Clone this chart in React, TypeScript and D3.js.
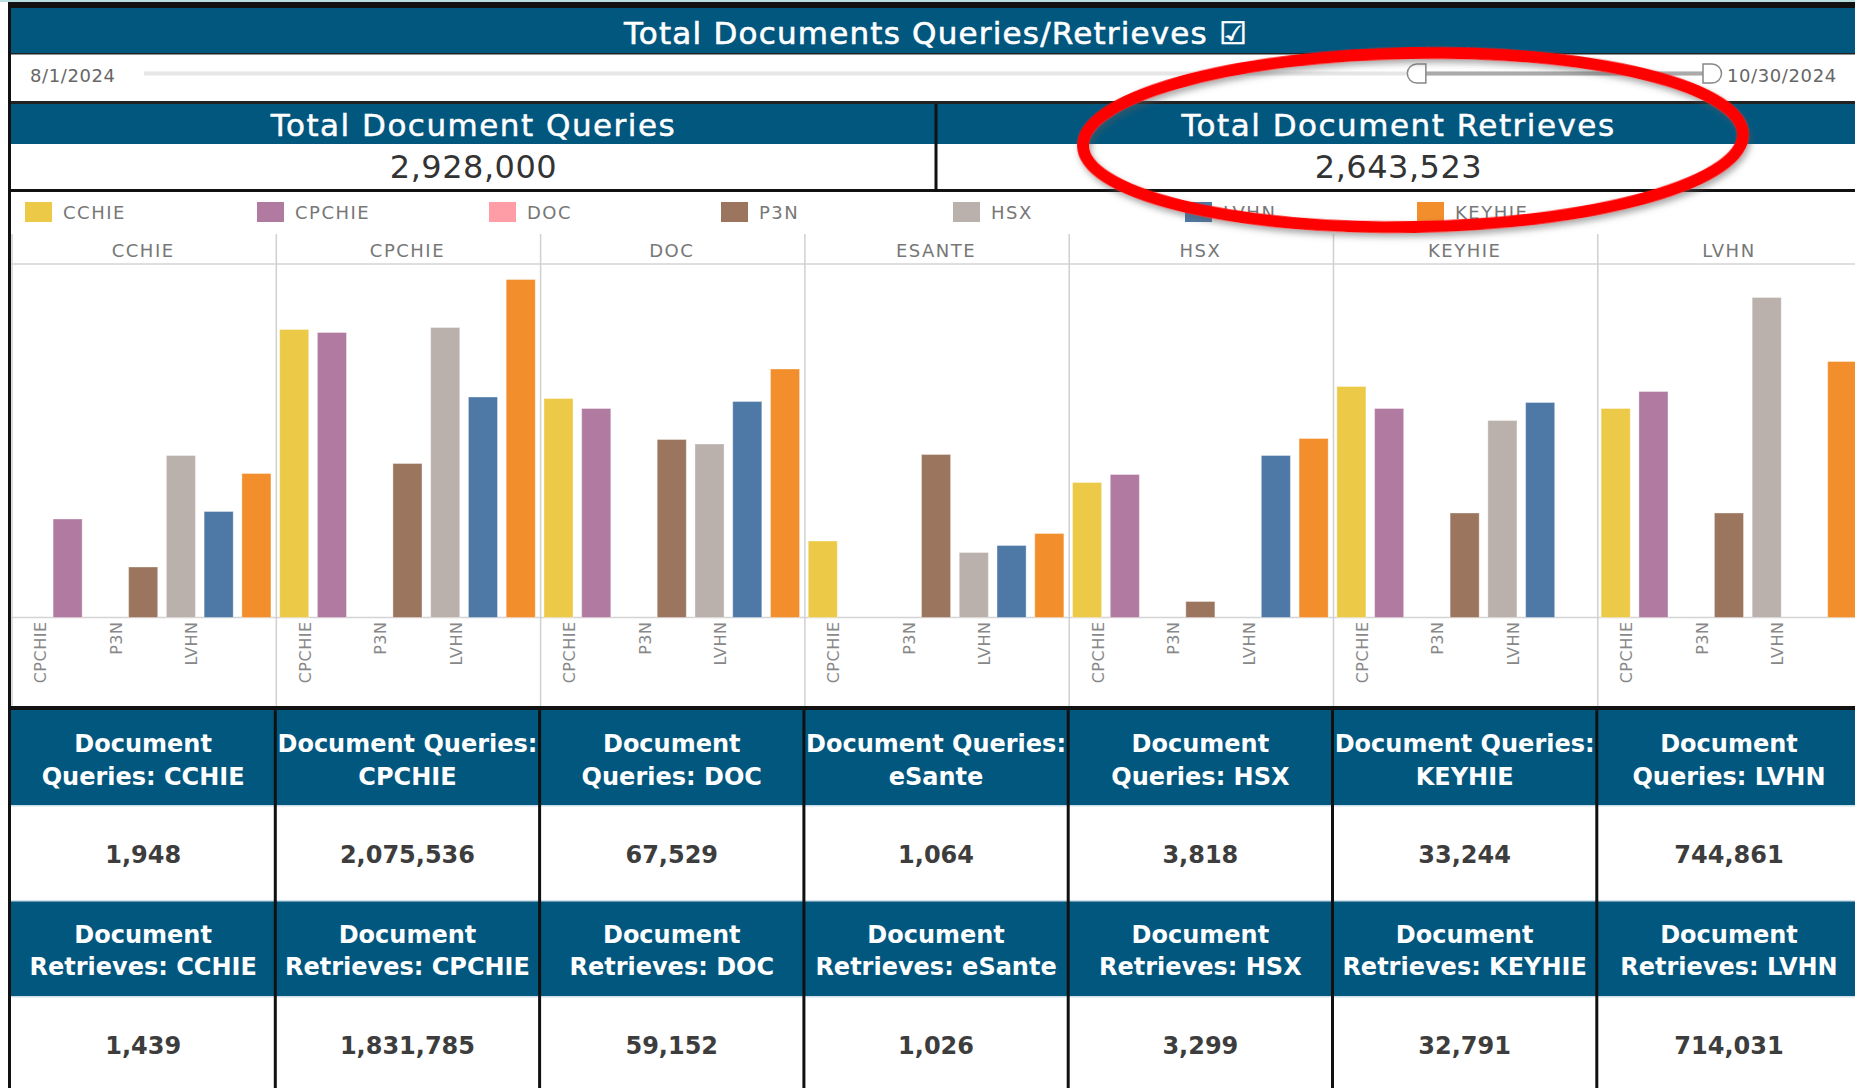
import * as d3 from "d3";

// facets (requesting HIE) and bar series (responding HIE), legend order
const facets = ["CCHIE", "CPCHIE", "DOC", "ESANTE", "HSX", "KEYHIE", "LVHN"];
const sources = ["CCHIE", "CPCHIE", "DOC", "P3N", "HSX", "LVHN", "KEYHIE"];
const sourceColors = ["#EDC948", "#B07AA1", "#FF9DA7", "#9C755F", "#BAB0AC", "#4E79A7", "#F28E2B"];

// bar heights per facet, in sources order (relative units, chart has no axis), null = no bar
const cchieBars = [null, 98.5, null, 50.5, 162, 106, 144];
const cpchieBars = [288, 285, null, 154, 290, 220.5, 338];
const docBars = [219, 209, null, 178, 173.5, 216, 248.5];
const esanteBars = [76.5, null, null, 163, 65, 72, 84];
const hsxBars = [135, 143, null, 16, null, 162, 179];
const keyhieBars = [231, 209, null, 104.5, 197, 215, null];
const lvhnBars = [209, 226, null, 104.5, 320, null, 256];
const facetBars = [cchieBars, cpchieBars, docBars, esanteBars, hsxBars, keyhieBars, lvhnBars];

// table
const tableCols = ["CCHIE", "CPCHIE", "DOC", "eSante", "HSX", "KEYHIE", "LVHN"];
const queryHeaders = [
    ["Document", "Queries: CCHIE"],
    ["Document Queries:", "CPCHIE"],
    ["Document", "Queries: DOC"],
    ["Document Queries:", "eSante"],
    ["Document", "Queries: HSX"],
    ["Document Queries:", "KEYHIE"],
    ["Document", "Queries: LVHN"],
];
const retrieveHeaders = tableCols.map(c => ["Document", `Retrieves: ${c}`]);
const queryValues = [1948, 2075536, 67529, 1064, 3818, 33244, 744861];
const retrieveValues = [1439, 1831785, 59152, 1026, 3299, 32791, 714031];

// date slider
const dateRange = [new Date(2024, 7, 1), new Date(2024, 9, 30)];
const selectedRange = [new Date(2024, 9, 14), new Date(2024, 9, 30)];

const BLUE = "#02577f";
const FONT = "DejaVu Sans";

export default function App() {
    const W = 1855, H = 1088;
    const left = 11;
    const pitch = 264.3;
    const fmt = d3.format(",");
    const fmtDate = (d: Date) => `${d.getMonth() + 1}/${d.getDate()}/${d.getFullYear()}`;

    const fx = d3.scaleBand<string>()
        .domain(facets)
        .range([left, left + pitch * facets.length]);
    const sx = d3.scaleBand<string>()
        .domain(sources)
        .range([0, pitch])
        .paddingInner(0.23)
        .paddingOuter(0.115);
    const y = d3.scaleLinear().domain([0, 353.5]).range([617.5, 264]);
    const color = d3.scaleOrdinal<string, string>().domain(sources).range(sourceColors);
    const colX = d3.scaleBand<string>()
        .domain(tableCols)
        .range([left, left + pitch * tableCols.length]);
    const slider = d3.scaleTime().domain(dateRange).range([144, 1703]);

    const totalQueries = d3.sum(queryValues);
    const totalRetrieves = d3.sum(retrieveValues);
    const labelSources = sources.filter((_, i) => i % 2 === 1);
    const midX = 936;

    const h1 = slider(selectedRange[0]);
    const h2 = slider(selectedRange[1]);
    const hy = 73.5;

    return (
        <div style={{ position: "absolute", left: 0, top: 0 }}>
            <svg width={W} height={H} style={{ display: "block", fontFamily: FONT }}>
                <defs>
                    <filter id="shadow" x="-10%" y="-20%" width="120%" height="140%">
                        <feDropShadow dx="2" dy="4" stdDeviation="3" floodColor="#555" floodOpacity="0.5" />
                    </filter>
                </defs>
                <rect width={W} height={H} fill="#fff" />
                <rect x={0} y={0} width={W} height={2} fill="#b9dfe0" />
                <rect x={8} y={2} width={W - 8} height={6} fill="#111" />
                <rect x={8} y={2} width={3} height={H} fill="#111" />

                {/* title */}
                <rect x={left} y={8} width={W - left} height={46} fill={BLUE} />
                <text x={midX} y={33} textAnchor="middle" dominantBaseline="central" fill="#fff"
                    stroke="#fff" strokeWidth={0.6} fontSize={31} style={{ letterSpacing: "1.2px" }}>
                    Total Documents Queries/Retrieves ☑
                </text>
                <rect x={left} y={53} width={W - left} height={1.5} fill="#222" />

                {/* date slider */}
                <text x={30} y={hy + 2} dominantBaseline="central" fill="#666" fontSize={18}
                    style={{ letterSpacing: "0.6px" }}>{fmtDate(dateRange[0])}</text>
                <text x={1727} y={hy + 2} dominantBaseline="central" fill="#666" fontSize={18}
                    style={{ letterSpacing: "0.6px" }}>{fmtDate(dateRange[1])}</text>
                <rect x={slider.range()[0]} y={hy - 2} width={slider.range()[1] - slider.range()[0]} height={4} fill="#e6e6e6" />
                <rect x={h1} y={hy - 2} width={h2 - h1} height={4} fill="#aaa" />
                <path d={`M${h1},${hy - 9.5}H${h1 - 9}A9.5,9.5 0 0 0 ${h1 - 9},${hy + 9.5}H${h1}Z`}
                    fill="#fff" stroke="#888" strokeWidth={1.5} />
                <path d={`M${h2},${hy - 9.5}H${h2 + 9}A9.5,9.5 0 0 1 ${h2 + 9},${hy + 9.5}H${h2}Z`}
                    fill="#fff" stroke="#888" strokeWidth={1.5} />
                <rect x={left} y={101} width={W - left} height={3} fill="#222" />

                {/* KPI */}
                <rect x={left} y={104} width={W - left} height={40} fill={BLUE} />
                <rect x={midX - 1.5} y={104} width={3} height={86} fill="#111" />
                <text x={(left + midX) / 2} y={125} textAnchor="middle" dominantBaseline="central" fill="#fff"
                    stroke="#fff" strokeWidth={0.5} fontSize={31} style={{ letterSpacing: "1.5px" }}>Total Document Queries</text>
                <text x={(midX + 1861) / 2} y={125} textAnchor="middle" dominantBaseline="central" fill="#fff"
                    stroke="#fff" strokeWidth={0.5} fontSize={31} style={{ letterSpacing: "1.5px" }}>Total Document Retrieves</text>
                <text x={(left + midX) / 2} y={167} textAnchor="middle" dominantBaseline="central" fill="#333"
                    fontSize={32} style={{ letterSpacing: "0.5px" }}>{fmt(totalQueries)}</text>
                <text x={(midX + 1861) / 2} y={167} textAnchor="middle" dominantBaseline="central" fill="#333"
                    fontSize={32} style={{ letterSpacing: "0.5px" }}>{fmt(totalRetrieves)}</text>
                <rect x={left} y={189} width={W - left} height={3} fill="#111" />

                {/* legend */}
                {sources.map((s, i) => (
                    <g key={s} transform={`translate(${25 + i * 232},202)`}>
                        <rect width={27} height={20} fill={color(s)} />
                        <text x={38} y={10} dominantBaseline="central" fill="#777" fontSize={18}
                            style={{ letterSpacing: "1.5px" }}>{s}</text>
                    </g>
                ))}

                {/* facet grid */}
                <line x1={left} x2={W} y1={264} y2={264} stroke="#d4d4d4" strokeWidth={1.5} />
                <line x1={left} x2={W} y1={y(0)} y2={y(0)} stroke="#d4d4d4" strokeWidth={1.5} />
                {facets.map((f, fi) => (
                    <g key={f}>
                        <line x1={fx(f)! + 1} x2={fx(f)! + 1} y1={234} y2={707} stroke="#d0d0d0" strokeWidth={1.5} />
                        <text x={fx(f)! + pitch / 2} y={250} textAnchor="middle" dominantBaseline="central"
                            fill="#777" fontSize={18} style={{ letterSpacing: "1.5px" }}>{f}</text>
                        {sources.map((s, si) => {
                            const v = facetBars[fi][si];
                            if (v == null) return null;
                            return (
                                <rect key={s} x={fx(f)! + sx(s)!} y={y(v)} width={sx.bandwidth()}
                                    height={y(0) - y(v)} fill={color(s)} stroke="#fff" strokeOpacity={0.35} strokeWidth={1} />
                            );
                        })}
                        {labelSources.map(s => (
                            <text key={s}
                                transform={`translate(${fx(f)! + sx(s)! + sx.bandwidth() / 2 - 27},${y(0) + 4}) rotate(-90)`}
                                textAnchor="end" dy="0.36em" fill="#888" fontSize={16}
                                style={{ letterSpacing: "0.5px" }}>{s}</text>
                        ))}
                    </g>
                ))}

                {/* table */}
                <rect x={left} y={706} width={W - left} height={4} fill="#111" />
                <rect x={left} y={710} width={W - left} height={95} fill={BLUE} />
                <rect x={left} y={805} width={W - left} height={1.5} fill="#cfe0ea" />
                <rect x={left} y={900} width={W - left} height={96} fill={BLUE} />
                <rect x={left} y={900} width={W - left} height={1.5} fill="#cfe0ea" />
                <rect x={left} y={996} width={W - left} height={1.5} fill="#cfe0ea" />
                {tableCols.map((c, i) => {
                    const cx = colX(c)! + pitch / 2;
                    return (
                        <g key={c}>
                            {i > 0 && <rect x={colX(c)! - 1.5} y={710} width={3} height={H - 710} fill="#111" />}
                            {queryHeaders[i].map((line, li) => (
                                <text key={li} x={cx} y={744 + li * 33} textAnchor="middle" dominantBaseline="central"
                                    fill="#fff" fontSize={24} fontWeight="bold">{line}</text>
                            ))}
                            <text x={cx} y={855} textAnchor="middle" dominantBaseline="central" fill="#3d3d3d"
                                fontSize={24} fontWeight="bold">{fmt(queryValues[i])}</text>
                            {retrieveHeaders[i].map((line, li) => (
                                <text key={li} x={cx} y={935 + li * 32} textAnchor="middle" dominantBaseline="central"
                                    fill="#fff" fontSize={24} fontWeight="bold">{line}</text>
                            ))}
                            <text x={cx} y={1046} textAnchor="middle" dominantBaseline="central" fill="#3d3d3d"
                                fontSize={24} fontWeight="bold">{fmt(retrieveValues[i])}</text>
                        </g>
                    );
                })}

                {/* annotation */}
                <ellipse cx={1413} cy={140} rx={330} ry={87} fill="none" stroke="#ff0000" strokeWidth={12}
                    transform="rotate(-1 1413 140)" filter="url(#shadow)" />
            </svg>
        </div>
    );
}
